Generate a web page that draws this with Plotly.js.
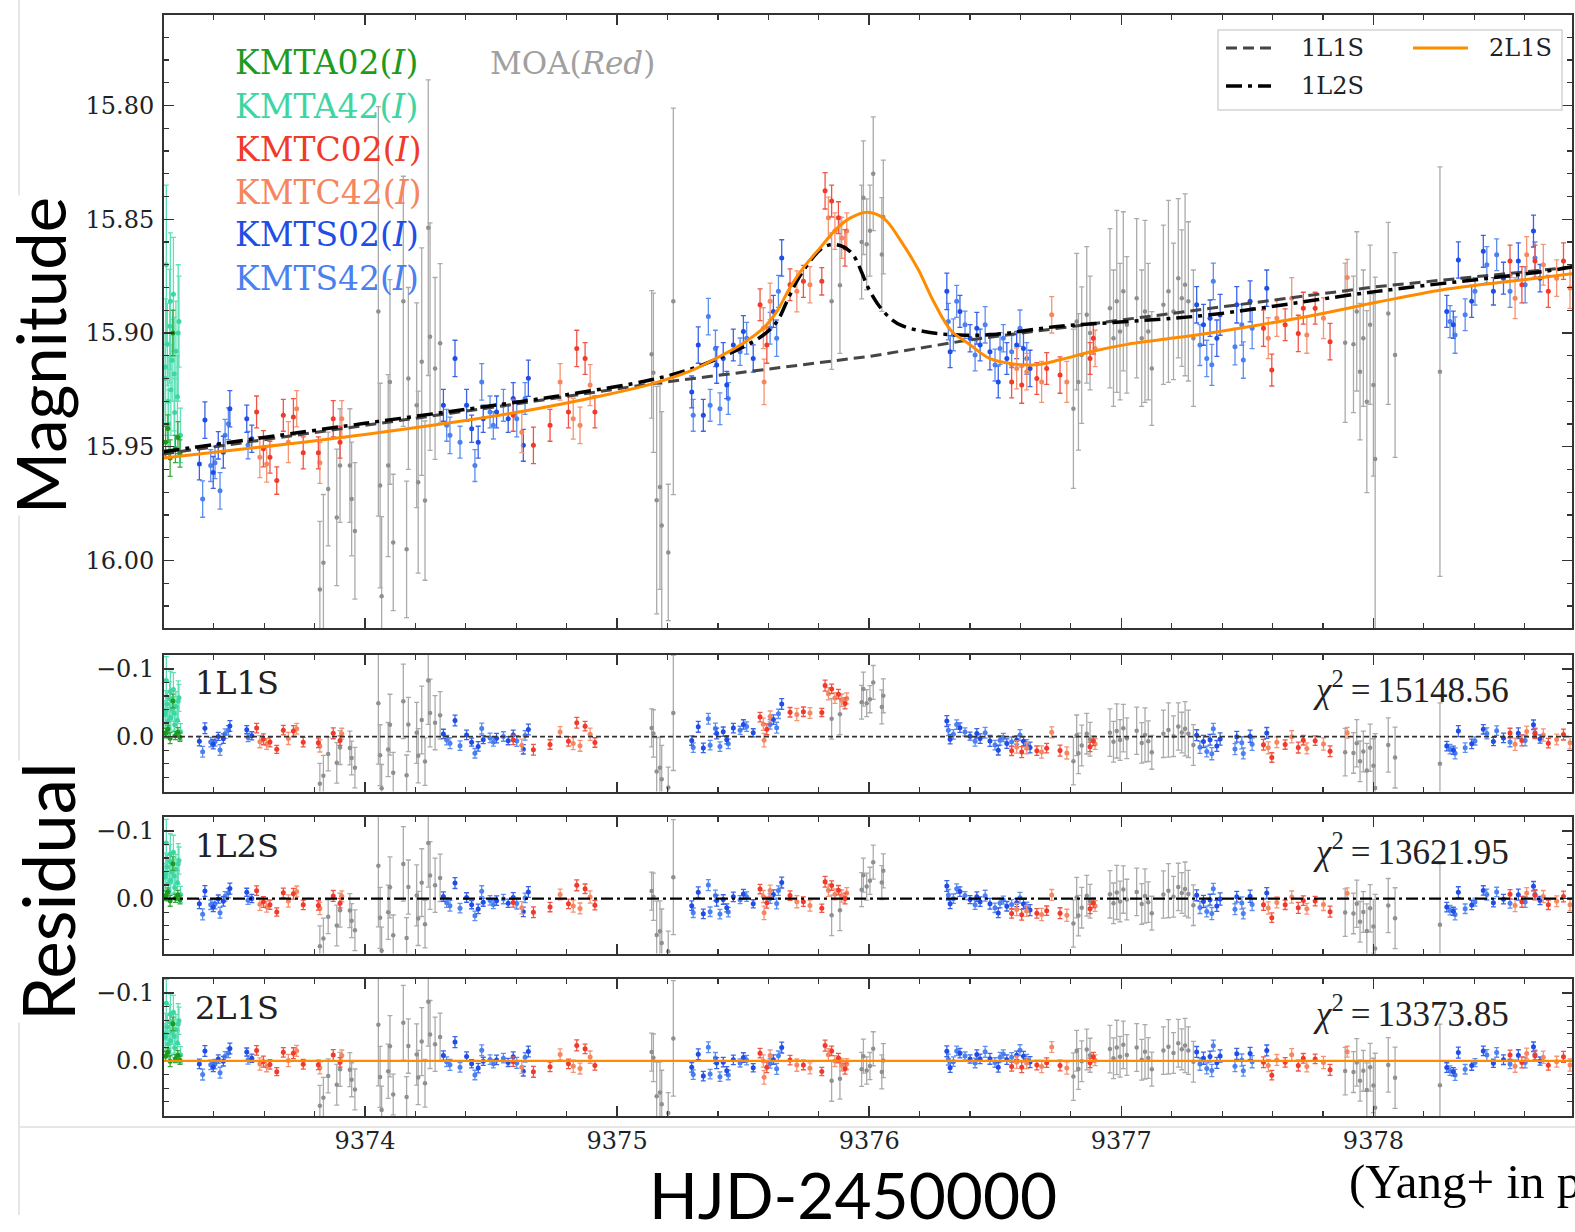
<!DOCTYPE html>
<html><head><meta charset="utf-8">
<script src="https://cdn.plot.ly/plotly-3.0.1.min.js"></script>
<style>html,body{margin:0;padding:0;background:#fff;}#chart{width:1575px;height:1232px;}</style>
</head><body><div id="chart"></div>
<script>
// ---------------- DATA ----------------
const tKMTA02 = [9373.209, 9373.218, 9373.227, 9373.238, 9373.248, 9373.258, 9373.266];
const mKMTA02 = [15.948, 15.942, 15.955, 15.900, 15.951, 15.946, 15.953];
const eKMTA02 = [0.007, 0.006, 0.008, 0.010, 0.006, 0.007, 0.006];

const tKMTA42 = [9373.207, 9373.209, 9373.212, 9373.216, 9373.219, 9373.221, 9373.225, 9373.228, 9373.230, 9373.235, 9373.240, 9373.243, 9373.245, 9373.250, 9373.256, 9373.259, 9373.262, 9373.268];
const mKMTA42 = [15.920, 15.915, 15.870, 15.905, 15.930, 15.940, 15.897, 15.886, 15.925, 15.912, 15.883, 15.918, 15.935, 15.908, 15.928, 15.900, 15.895, 15.945];
const eKMTA42 = [0.020, 0.030, 0.035, 0.018, 0.020, 0.015, 0.025, 0.030, 0.020, 0.018, 0.025, 0.025, 0.015, 0.022, 0.018, 0.030, 0.020, 0.012];

const tKMTS02 = [9373.343, 9373.365, 9373.398, 9373.418, 9373.438, 9373.464,
  9373.531, 9373.551,
  9374.311, 9374.357, 9374.403, 9374.423, 9374.449, 9374.469, 9374.522, 9374.568, 9374.588,
  9374.628, 9374.648,
  9375.296, 9375.322, 9375.342, 9375.395, 9375.421, 9375.435, 9375.461, 9375.501, 9375.540, 9375.620, 9375.653,
  9376.308, 9376.321, 9376.360, 9376.400, 9376.427, 9376.440, 9376.479, 9376.512, 9376.546, 9376.585, 9376.612, 9376.638,
  9377.299, 9377.326, 9377.352, 9377.379, 9377.392, 9377.458, 9377.511, 9377.577,
  9378.291, 9378.317, 9378.337, 9378.390, 9378.436, 9378.476, 9378.516, 9378.575, 9378.635, 9378.661];
const mKMTS02 = [15.9576, 15.9383, 15.9613, 15.9494, 15.9524, 15.9333,
  15.9377, 15.9465,
  15.9318, 15.9112, 15.9318, 15.9421, 15.9480, 15.9377, 15.9347, 15.9377, 15.9288,
  15.9494, 15.9199,
  15.9259, 15.9053, 15.9362, 15.9141, 15.9112, 15.9229, 15.9053, 15.8994, 15.9112, 15.8905, 15.8670,
  15.8817, 15.9082, 15.8905, 15.9023, 15.8979, 15.9053, 15.9082, 15.9215, 15.9112, 15.9053, 15.9068, 15.9156,
  15.8876, 15.8964, 15.8935, 15.9023, 15.8920, 15.8876, 15.8861, 15.8803,
  15.8905, 15.8964, 15.8679, 15.8861, 15.8641, 15.8817, 15.8759, 15.8684, 15.8552, 15.8759];
const eKMTS02 = [0.007, 0.008, 0.007, 0.006, 0.007, 0.008,
  0.006, 0.006,
  0.007, 0.008, 0.007, 0.006, 0.007, 0.006, 0.007, 0.006, 0.007,
  0.007, 0.008,
  0.007, 0.008, 0.007, 0.008, 0.007, 0.006, 0.007, 0.007, 0.006, 0.007, 0.008,
  0.008, 0.007, 0.007, 0.006, 0.007, 0.007, 0.008, 0.007, 0.007, 0.006, 0.007, 0.008,
  0.008, 0.009, 0.008, 0.008, 0.009, 0.008, 0.009, 0.008,
  0.007, 0.006, 0.008, 0.007, 0.007, 0.006, 0.007, 0.008, 0.007, 0.006];

const tKMTS42 = [9373.356, 9373.388, 9373.405, 9373.425, 9373.445, 9373.458, 9373.536,
  9374.324, 9374.337, 9374.377, 9374.436, 9374.463, 9374.496, 9374.509, 9374.549, 9374.602, 9374.635,
  9375.302, 9375.362, 9375.369, 9375.390, 9375.408, 9375.441, 9375.488, 9375.514, 9375.607, 9375.633, 9375.640,
  9376.314, 9376.334, 9376.347, 9376.380, 9376.420, 9376.460, 9376.499, 9376.519, 9376.532, 9376.565, 9376.598, 9376.625,
  9377.312, 9377.339, 9377.359, 9377.365, 9377.451, 9377.478, 9377.484, 9377.519,
  9378.304, 9378.324, 9378.364, 9378.403, 9378.450, 9378.489, 9378.542, 9378.602, 9378.641];
const mKMTS42 = [15.9730, 15.9583, 15.9570, 15.9694, 15.9450, 15.9399, 15.9493,
  15.9406, 15.9450, 15.9480, 15.9583, 15.9215, 15.9347, 15.9406, 15.9318, 15.9377, 15.9288,
  15.9362, 15.8928, 15.9318, 15.9068, 15.9333, 15.9288, 15.9082, 15.9023, 15.8979, 15.9023, 15.8817,
  15.8950, 15.9008, 15.8861, 15.8964, 15.9097, 15.8964, 15.9141, 15.9068, 15.9023, 15.9082, 15.8979, 15.9112,
  15.9053, 15.9112, 15.9140, 15.8773, 15.9060, 15.8964, 15.9119, 15.8979,
  15.8950, 15.9009, 15.8920, 15.8817, 15.8700, 15.8656, 15.8817, 15.8788, 15.8670];
const eKMTS42 = [0.008, 0.007, 0.007, 0.008, 0.007, 0.007, 0.006,
  0.007, 0.008, 0.007, 0.007, 0.008, 0.007, 0.006, 0.007, 0.008, 0.007,
  0.007, 0.008, 0.007, 0.008, 0.007, 0.007, 0.006, 0.007, 0.007, 0.008, 0.007,
  0.008, 0.007, 0.007, 0.006, 0.007, 0.008, 0.007, 0.007, 0.006, 0.007, 0.008, 0.007,
  0.009, 0.008, 0.009, 0.008, 0.008, 0.009, 0.008, 0.009,
  0.007, 0.008, 0.007, 0.006, 0.008, 0.007, 0.007, 0.008, 0.007];

const tKMTC02 = [9373.570, 9373.597, 9373.623, 9373.650, 9373.676, 9373.716, 9373.755, 9373.815, 9373.874, 9373.901,
  9374.588, 9374.668, 9374.734, 9374.807, 9374.840, 9374.873, 9374.912,
  9375.567, 9375.594, 9375.686, 9375.739, 9375.812, 9375.825, 9375.851, 9375.878, 9375.904,
  9376.565, 9376.605, 9376.665, 9376.704, 9376.757, 9376.876, 9376.889,
  9377.564, 9377.597, 9377.650, 9377.702, 9377.722, 9377.769, 9377.828,
  9378.542, 9378.589, 9378.641, 9378.694, 9378.754];
const mKMTC02 = [15.9347, 15.9509, 15.9546, 15.9649, 15.9362, 15.9369, 15.9527, 15.9527, 15.9377, 15.9480,
  15.9362, 15.9494, 15.9406, 15.9347, 15.9068, 15.9112, 15.9347,
  15.8876, 15.9053, 15.8788, 15.8773, 15.8773, 15.8375, 15.8420, 15.8493, 15.8626,
  15.9215, 15.9229, 15.9200, 15.9156, 15.9185, 15.9112, 15.9023,
  15.8979, 15.9163, 15.8964, 15.9002, 15.8891, 15.8891, 15.9038,
  15.8684, 15.8788, 15.8684, 15.8817, 15.8684];
const eKMTC02 = [0.007, 0.008, 0.007, 0.006, 0.007, 0.008, 0.007, 0.007, 0.008, 0.007,
  0.007, 0.008, 0.007, 0.007, 0.008, 0.007, 0.007,
  0.007, 0.008, 0.007, 0.007, 0.006, 0.008, 0.007, 0.007, 0.008,
  0.007, 0.008, 0.007, 0.007, 0.008, 0.007, 0.007,
  0.008, 0.007, 0.007, 0.008, 0.007, 0.007, 0.008,
  0.007, 0.008, 0.007, 0.007, 0.008];

const tKMTC42 = [9373.583, 9373.610, 9373.696, 9373.729, 9373.821, 9373.908, 9374.622, 9374.774, 9374.826, 9374.853, 9374.893,
  9375.580, 9375.583, 9375.607, 9375.713, 9375.765, 9375.838, 9375.864, 9375.891, 9375.911,
  9376.585, 9376.625, 9376.684, 9376.724, 9376.784, 9376.896,
  9377.583, 9377.617, 9377.676, 9377.736, 9377.802, 9377.896,
  9378.562, 9378.608, 9378.674, 9378.727, 9378.780];
const mKMTC42 = [15.9546, 15.9576, 15.9480, 15.9333, 15.9571, 15.9377, 15.9436, 15.9215, 15.9377, 15.9406, 15.9229,
  15.8979, 15.9215, 15.8861, 15.8817, 15.8788, 15.8493, 15.8552, 15.8582, 15.8552,
  15.9156, 15.9170, 15.9215, 15.8920, 15.9215, 15.9068,
  15.9023, 15.8935, 15.8847, 15.9009, 15.8935, 15.8756,
  15.8847, 15.8656, 15.8700, 15.8759, 15.8802];
const eKMTC42 = [0.009, 0.008, 0.009, 0.008, 0.009, 0.008, 0.009, 0.008, 0.009, 0.008, 0.009,
  0.009, 0.010, 0.008, 0.009, 0.008, 0.009, 0.008, 0.009, 0.008,
  0.009, 0.008, 0.009, 0.008, 0.009, 0.008,
  0.009, 0.008, 0.009, 0.008, 0.009, 0.008,
  0.009, 0.008, 0.009, 0.008, 0.009];

const tMOA = [9373.821, 9373.835, 9373.854, 9373.888, 9373.901, 9373.940, 9373.947, 9373.960,
  9374.053, 9374.060, 9374.066, 9374.092, 9374.099, 9374.112, 9374.152, 9374.165, 9374.172, 9374.205, 9374.211, 9374.225, 9374.238, 9374.251, 9374.258, 9374.278, 9374.298,
  9375.137, 9375.144, 9375.157, 9375.170, 9375.177, 9375.203, 9375.223,
  9375.851, 9375.884, 9375.970, 9375.977, 9375.990, 9376.003, 9376.016, 9376.050, 9376.056,
  9376.810, 9376.823, 9376.830, 9376.843, 9376.863, 9376.876,
  9376.955, 9376.969, 9376.982, 9376.995, 9377.008, 9377.022, 9377.061, 9377.081, 9377.094, 9377.107, 9377.121, 9377.167, 9377.187, 9377.207, 9377.226, 9377.240, 9377.253, 9377.266, 9377.286,
  9377.888, 9377.921, 9377.934, 9377.947, 9377.960, 9377.974, 9377.987, 9378.000, 9378.007, 9378.059, 9378.086, 9378.264];
const mMOA = [16.0128, 16.0010, 15.9686, 15.9811, 15.9583, 15.9583, 15.9730, 15.9870,
  15.8905, 15.9671, 16.0157, 15.9583, 15.9215, 15.9921, 15.8861, 15.9951, 15.9200, 15.9318, 15.9656, 15.9126, 15.9737, 15.8537, 15.9016, 15.9156, 15.9045,
  15.9094, 15.9175, 15.9735, 15.9677, 15.9846, 15.9965, 15.8861,
  15.8860, 15.8790, 15.8600, 15.8405, 15.8610, 15.8550, 15.8300, 15.8655, 15.8490,
  15.9333, 15.8950, 15.9215, 15.9097, 15.8920, 15.9000,
  15.8891, 15.9023, 15.8861, 15.8994, 15.8817, 15.8964, 15.8847, 15.9023, 15.8905, 15.8994, 15.9156, 15.8876, 15.8817, 15.8905, 15.8759, 15.8847, 15.8788, 15.8861, 15.9023,
  15.9043, 15.9050, 15.8905, 15.9170, 15.9023, 15.9302, 15.8964, 15.9229, 15.9554, 15.8914, 15.9097, 15.9170];
const eMOA = [0.030, 0.030, 0.025, 0.030, 0.025, 0.025, 0.025, 0.030,
  0.090, 0.045, 0.035, 0.040, 0.045, 0.030, 0.055, 0.030, 0.040, 0.045, 0.040, 0.050, 0.035, 0.065, 0.050, 0.040, 0.035,
  0.028, 0.035, 0.050, 0.045, 0.050, 0.030, 0.085,
  0.030, 0.030, 0.025, 0.025, 0.020, 0.020, 0.025, 0.025, 0.025,
  0.035, 0.030, 0.030, 0.030, 0.030, 0.025,
  0.035, 0.030, 0.040, 0.030, 0.035, 0.030, 0.035, 0.030, 0.040, 0.030, 0.025, 0.035, 0.040, 0.030, 0.035, 0.030, 0.040, 0.035, 0.030,
  0.035, 0.030, 0.035, 0.030, 0.030, 0.040, 0.035, 0.040, 0.080, 0.040, 0.045, 0.090];

// model curves
const t1L1S = [9373.2, 9374.0, 9374.6, 9375.13, 9375.6, 9376.0, 9376.4, 9376.9, 9377.35, 9378.0, 9378.8];
const m1L1S = [15.9532, 15.9406, 15.9312, 15.9224, 15.9160, 15.9103, 15.9030, 15.8958, 15.8890, 15.8798, 15.8709];
const t1L2S = [9373.2, 9374.0, 9374.615, 9374.841, 9375.131, 9375.317, 9375.499, 9375.579, 9375.634, 9375.674, 9375.714, 9375.765, 9375.805, 9375.845, 9375.896, 9375.935, 9375.971, 9375.991, 9376.031, 9376.083, 9376.130, 9376.241, 9376.360, 9376.491, 9376.757, 9377.023, 9377.352, 9378.014, 9378.673, 9378.8];
const m1L2S = [15.9522, 15.9397, 15.9302, 15.9264, 15.9207, 15.9149, 15.9062, 15.9010, 15.8950, 15.8860, 15.8770, 15.8685, 15.8635, 15.8612, 15.8620, 15.8655, 15.8735, 15.8790, 15.8868, 15.8935, 15.8968, 15.8998, 15.9009, 15.9007, 15.8970, 15.8950, 15.8920, 15.8817, 15.8730, 15.8707];
const t2L1S = [9373.2, 9374.0, 9374.575, 9374.972, 9375.131, 9375.289, 9375.369, 9375.499, 9375.579, 9375.634, 9375.686, 9375.737, 9375.805, 9375.872, 9375.924, 9375.991, 9376.059, 9376.126, 9376.194, 9376.257, 9376.325, 9376.392, 9376.479, 9376.566, 9376.658, 9376.757, 9376.888, 9377.023, 9377.154, 9377.352, 9377.748, 9378.014, 9378.276, 9378.542, 9378.8];
const m2L1S = [15.9550, 15.9446, 15.9354, 15.9268, 15.9226, 15.9168, 15.9125, 15.9046, 15.8980, 15.8905, 15.8800, 15.8716, 15.8626, 15.8540, 15.8495, 15.8469, 15.8497, 15.8596, 15.8720, 15.8865, 15.8990, 15.9045, 15.9113, 15.9135, 15.9140, 15.9118, 15.9080, 15.9050, 15.9030, 15.9000, 15.8925, 15.8865, 15.8810, 15.8773, 15.8738];

const modelNames = ['1L1S', '1L2S', '2L1S'];
const chi2 = ['15148.56', '13621.95', '13373.85'];
const xTickVals = [9374, 9375, 9376, 9377, 9378];

// ---------------- GEOMETRY ----------------
const L = 164, R = 1572, T = 15, B = 1116;
const px2x = p => (p - L) / (R - L);
const px2y = p => (B - p) / (B - T);
const XR = [9373.2027, 9378.7878];

function interp(ts, ms, t) {
  if (t <= ts[0]) return ms[0];
  for (let i = 1; i < ts.length; i++) {
    if (t <= ts[i]) { const f = (t - ts[i-1]) / (ts[i] - ts[i-1]); return ms[i-1] + f * (ms[i] - ms[i-1]); }
  }
  return ms[ms.length - 1];
}

const sets = [
  {t: tMOA, m: mMOA, e: eMOA, c: '#8f8f8f', bc: '#ababab', s: 4.5},
  {t: tKMTA42, m: mKMTA42, e: eKMTA42, c: '#3dd6a3', bc: '#5ee0b6', s: 5},
  {t: tKMTA02, m: mKMTA02, e: eKMTA02, c: '#1e9a1e', bc: '#3aa83a', s: 5},
  {t: tKMTS42, m: mKMTS42, e: eKMTS42, c: '#4a80f0', bc: '#5e8ef2', s: 5},
  {t: tKMTS02, m: mKMTS02, e: eKMTS02, c: '#1f4ee6', bc: '#3a63ea', s: 5},
  {t: tKMTC42, m: mKMTC42, e: eKMTC42, c: '#f5865e', bc: '#f69474', s: 5},
  {t: tKMTC02, m: mKMTC02, e: eKMTC02, c: '#f03a2a', bc: '#f25446', s: 5}
];
const models = [[t1L1S, m1L1S], [t1L2S, m1L2S], [t2L1S, m2L1S]];
const suf = ['', '2', '3', '4'];

const traces = [];
for (let p = 0; p < 4; p++) {
  for (const d of sets) {
    const y = p === 0 ? d.m : d.m.map((v, i) => v - interp(models[p-1][0], models[p-1][1], d.t[i]));
    traces.push({type: 'scatter', mode: 'markers', x: d.t, y: y,
      xaxis: 'x' + suf[p], yaxis: 'y' + suf[p],
      marker: {color: d.c, size: d.s},
      error_y: {type: 'data', array: d.e, visible: true, color: d.bc, thickness: 1.3, width: 2.5},
      hoverinfo: 'skip', showlegend: false});
  }
}
// model curves in main panel
traces.push({type: 'scatter', mode: 'lines', x: t1L1S, y: m1L1S, xaxis: 'x', yaxis: 'y',
  line: {color: '#454545', width: 3, dash: '11px,6px'}, showlegend: false, hoverinfo: 'skip'});
traces.push({type: 'scatter', mode: 'lines', x: t1L2S, y: m1L2S, xaxis: 'x', yaxis: 'y',
  line: {color: '#000000', width: 3.5, dash: '16px,6px,4px,6px', shape: 'spline', smoothing: 1}, showlegend: false, hoverinfo: 'skip'});
traces.push({type: 'scatter', mode: 'lines', x: t2L1S, y: m2L1S, xaxis: 'x', yaxis: 'y',
  line: {color: '#ff8c00', width: 3, shape: 'spline', smoothing: 1}, showlegend: false, hoverinfo: 'skip'});

const tickFont = {family: 'DejaVu Serif', size: 24, color: '#222'};
function xax(anchor, labels) {
  return {domain: [0, 1], range: XR, anchor: anchor, showticklabels: labels, tickvals: xTickVals, tickformat: 'd',
    ticks: 'inside', ticklen: 10, tickwidth: 1.5, tickcolor: '#333',
    minor: {ticks: 'inside', ticklen: 5, tickwidth: 1.2, tickcolor: '#333', tick0: 9374, dtick: 0.2},
    showline: true, linewidth: 2, linecolor: '#333', mirror: 'allticks', showgrid: false, zeroline: false,
    tickfont: tickFont, ticklabelstandoff: 2};
}
function yax(anchor, domain, range, tick0, dtick, mdt, fmt) {
  return {domain: domain, range: range, anchor: anchor, tick0: tick0, dtick: dtick, tickformat: fmt,
    ticks: 'inside', ticklen: 10, tickwidth: 1.5, tickcolor: '#333',
    minor: {ticks: 'inside', ticklen: 5, tickwidth: 1.2, tickcolor: '#333', tick0: tick0, dtick: mdt},
    showline: true, linewidth: 2, linecolor: '#333', mirror: 'allticks', showgrid: false, zeroline: false,
    tickfont: tickFont, ticklabelstandoff: 3};
}
const RR = [0.081, -0.1205];
const layout = {
  width: 1575, height: 1232, margin: {l: L, r: 1575 - R, t: T, b: 1232 - B},
  paper_bgcolor: '#fff', plot_bgcolor: 'rgba(0,0,0,0)', showlegend: false,
  xaxis: xax('y', false), xaxis2: xax('y2', false), xaxis3: xax('y3', false), xaxis4: xax('y4', true),
  yaxis: yax('x', [px2y(628), 1], [16.0297, 15.7602], 15.8, 0.05, 0.01, '.2f'),
  yaxis2: yax('x2', [px2y(791.5), px2y(655)], RR, 0, 0.1, 0.02, '.1f'),
  yaxis3: yax('x3', [px2y(953.5), px2y(817)], RR, 0, 0.1, 0.02, '.1f'),
  yaxis4: yax('x4', [0, px2y(979)], RR, 0, 0.1, 0.02, '.1f'),
  shapes: [], annotations: []
};

// zero lines of residual panels
layout.shapes.push({type: 'line', xref: 'paper', yref: 'y2', x0: 0, x1: 1, y0: 0, y1: 0, line: {color: '#333', width: 1.6, dash: '5px,3px'}});
layout.shapes.push({type: 'line', xref: 'paper', yref: 'y3', x0: 0, x1: 1, y0: 0, y1: 0, line: {color: '#000', width: 2.2, dash: '12px,4px,3px,4px'}});
layout.shapes.push({type: 'line', xref: 'paper', yref: 'y4', x0: 0, x1: 1, y0: 0, y1: 0, line: {color: '#ff8c00', width: 2.2}});
// faint slide lines
layout.shapes.push({type: 'line', layer: 'below', xref: 'paper', yref: 'paper', x0: px2x(19), x1: px2x(19), y0: px2y(0), y1: px2y(1215), line: {color: '#e6e6e6', width: 2}});
layout.shapes.push({type: 'line', layer: 'below', xref: 'paper', yref: 'paper', x0: px2x(19), x1: px2x(1575), y0: px2y(1127), y1: px2y(1127), line: {color: '#e6e6e6', width: 2}});
// legend box
layout.shapes.push({type: 'rect', xref: 'paper', yref: 'paper', x0: px2x(1218), x1: px2x(1562), y0: px2y(110), y1: px2y(30),
  line: {color: '#d4d4d4', width: 1.5}, fillcolor: 'rgba(255,255,255,0.85)'});
layout.shapes.push({type: 'line', xref: 'paper', yref: 'paper', x0: px2x(1226), x1: px2x(1271), y0: px2y(48), y1: px2y(48), line: {color: '#454545', width: 3, dash: '11px,6px'}});
layout.shapes.push({type: 'line', xref: 'paper', yref: 'paper', x0: px2x(1226), x1: px2x(1271), y0: px2y(86), y1: px2y(86), line: {color: '#000', width: 3.5, dash: '16px,6px,4px,6px'}});
layout.shapes.push({type: 'line', xref: 'paper', yref: 'paper', x0: px2x(1413), x1: px2x(1468), y0: px2y(48), y1: px2y(48), line: {color: '#ff8c00', width: 3}});

function A(text, px, py, o) {
  layout.annotations.push(Object.assign({text: text, x: px2x(px), y: px2y(py), xref: 'paper', yref: 'paper',
    showarrow: false, xanchor: 'left', yanchor: 'middle'}, o));
}
const serif = (s, c) => ({family: 'DejaVu Serif', size: s, color: c});
A('1L1S', 1299, 48, {font: serif(24, '#222')});
A('1L2S', 1299, 86, {font: serif(24, '#222')});
A('2L1S', 1487, 48, {font: serif(24, '#222')});

const labs = [['KMTA02(<i>I</i>)', '#1e9a1e'], ['KMTA42(<i>I</i>)', '#3dd6a3'], ['KMTC02(<i>I</i>)', '#f03a2a'],
              ['KMTC42(<i>I</i>)', '#f5865e'], ['KMTS02(<i>I</i>)', '#1f4ee6'], ['KMTS42(<i>I</i>)', '#4a80f0']];
const labY = [63, 106.5, 149, 192, 235, 278];
labs.forEach((l, i) => A(l[0], 233, labY[i], {font: serif(33, l[1])}));
A('MOA(<i>Red</i>)', 488, 63, {font: serif(31, '#a0a0a0')});

const panY = [683, 846, 1008];
const chiY = [687, 849, 1011];
for (let i = 0; i < 3; i++) {
  A(modelNames[i], 193, panY[i], {font: serif(32, '#222')});
  A('<i>χ</i><sup>2</sup>\u2009=\u2009' + chi2[i], 1511, chiY[i], {xanchor: 'right', font: {family: 'Liberation Serif', size: 35, color: '#222'}});
}
A('Magnitude', 40, 356, {xanchor: 'center', textangle: -90, bgcolor: '#fff', font: {family: 'Lato', size: 67, color: '#000'}});
A('Residual', 47, 892, {xanchor: 'center', textangle: -90, bgcolor: '#fff', font: {family: 'Lato', size: 71, color: '#000'}});
A('HJD-2450000', 853, 1194, {xanchor: 'center', font: {family: 'Lato', size: 64, color: '#000'}});
A('(Yang+ in prep.)', 1347, 1181, {font: {family: 'Liberation Serif', size: 49, color: '#000'}});

Plotly.newPlot('chart', traces, layout, {displayModeBar: false, staticPlot: true});
</script></body></html>
